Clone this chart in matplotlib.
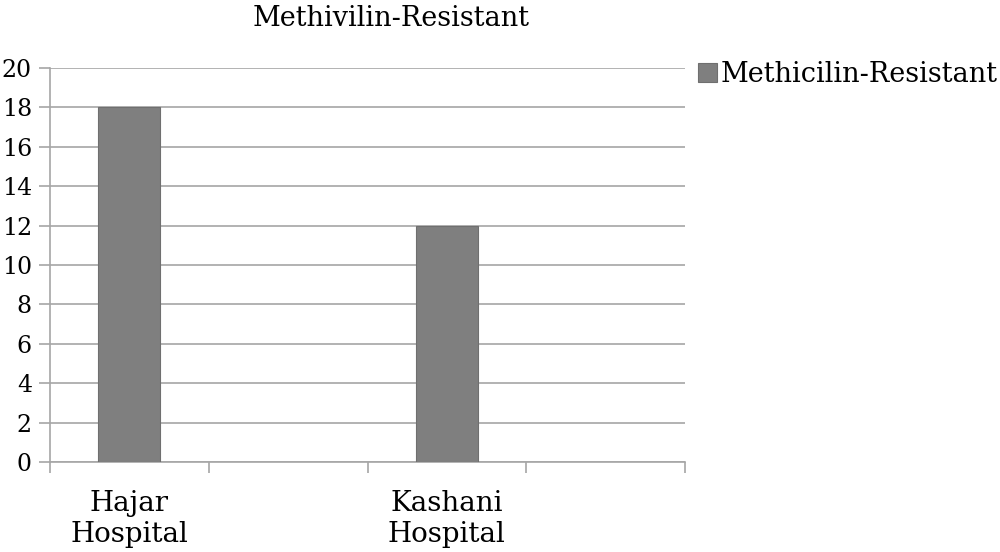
import numpy as np
import matplotlib
matplotlib.use("Agg")
import matplotlib.pyplot as plt

# data
categories = ["Hajar\nHospital", "", "Kashani\nHospital", ""]
values = [18, np.nan, 12, np.nan]
series_name = "Methicilin-Resistant"
title = "Methivilin-Resistant"
y_ticks = [0, 2, 4, 6, 8, 10, 12, 14, 16, 18, 20]

plt.rcParams['font.family'] = ['DejaVu Serif']

fig = plt.figure(figsize=(10, 5.52), dpi=100)
ax = fig.add_axes([0.05, 0.163, 0.635, 0.714])

x = np.arange(len(categories))
ax.bar(x, values, width=0.39, color="#7f7f7f", edgecolor="#6f6f6f",
       linewidth=0.8, label=series_name, zorder=3)

ax.set_xlim(-0.5, len(categories) - 0.5)
ax.set_ylim(0, 20)
ax.set_yticks(y_ticks)
ax.set_yticklabels([str(v) for v in y_ticks], fontsize=17)
ax.yaxis.grid(True, color="#a6a6a6", linewidth=1.2, zorder=0)
ax.tick_params(axis='y', length=8, width=1.2, color="#a6a6a6", pad=5)

# category labels in the middle of each slot, tick marks on slot borders
ax.set_xticks(x)
ax.set_xticklabels(categories, fontsize=20, linespacing=1.2)
ax.tick_params(axis='x', which='major', length=0, pad=20)
ax.set_xticks(np.arange(-0.5, len(categories)), minor=True)
ax.tick_params(axis='x', which='minor', length=8, width=1.2, color="#a6a6a6")

for side in ["top", "right"]:
    ax.spines[side].set_visible(False)
ax.spines["left"].set_color("#a6a6a6")
ax.spines["left"].set_linewidth(1.2)
ax.spines["bottom"].set_color("#a6a6a6")
ax.spines["bottom"].set_linewidth(1.2)

fig.text(0.391, 1 - 18 / 552, title, ha="center", va="center", fontsize=19.5)

ax.legend(loc="upper left", bbox_to_anchor=(0.99, 1.065), frameon=False,
          fontsize=19.5, handlelength=0.7, handleheight=0.7, handletextpad=0.15,
          borderaxespad=0.3)

fig.savefig("out.png", dpi=100)
